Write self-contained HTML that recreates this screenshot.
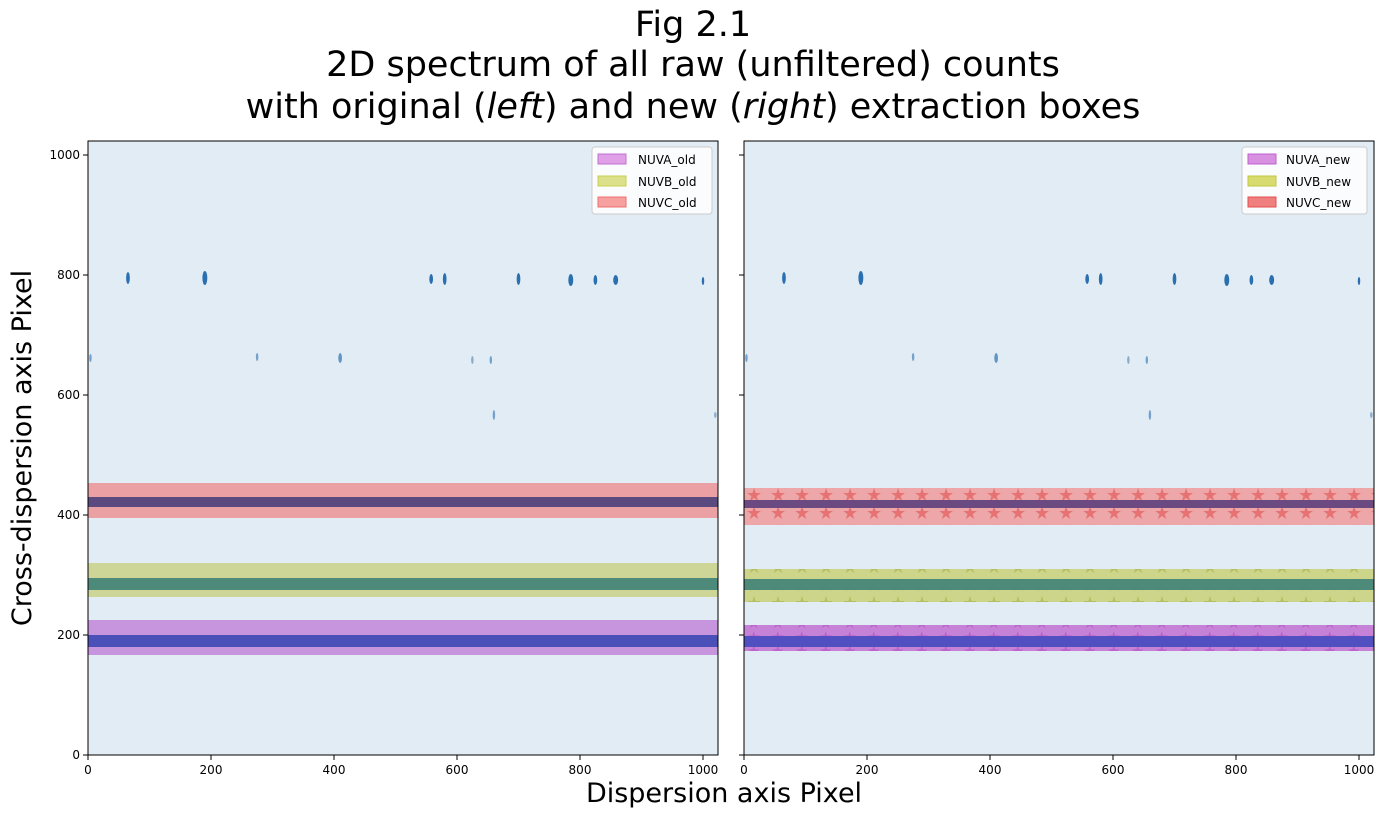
<!DOCTYPE html><html><head><style>body{margin:0;background:#fff}svg{display:block}text{font-family:"DejaVu Sans","Liberation Sans",sans-serif}</style></head><body>
<svg width="1386" height="818" xmlns="http://www.w3.org/2000/svg">
<defs>
<pattern id="st" width="24" height="18" patternUnits="userSpaceOnUse"><text x="2" y="15" font-size="18" fill="#e03030" fill-opacity="0.45">★</text></pattern>
<pattern id="stg" width="24" height="18" patternUnits="userSpaceOnUse"><text x="2" y="15" font-size="18" fill="#8a9a10" fill-opacity="0.35">★</text></pattern>
<pattern id="stm" width="24" height="14" patternUnits="userSpaceOnUse"><text x="3" y="12" font-size="15" fill="#b030c0" fill-opacity="0.4">★</text></pattern>
<g id="spots" fill="#2a70b0">
<ellipse cx="65" cy="278" rx="3" ry="6"/><ellipse cx="190" cy="278" rx="4" ry="7"/><ellipse cx="558" cy="279" rx="3" ry="5"/><ellipse cx="580" cy="279" rx="3" ry="6"/><ellipse cx="700" cy="279" rx="3" ry="6"/><ellipse cx="785" cy="280" rx="4" ry="6"/><ellipse cx="825" cy="280" rx="3" ry="5"/><ellipse cx="858" cy="280" rx="4" ry="5"/><ellipse cx="1000" cy="281" rx="2" ry="4"/>
<ellipse cx="4" cy="358" rx="2" ry="4" opacity=".6"/><ellipse cx="275" cy="357" rx="2" ry="4" opacity=".6"/><ellipse cx="410" cy="358" rx="3" ry="5" opacity=".7"/><ellipse cx="625" cy="360" rx="2" ry="4" opacity=".5"/><ellipse cx="655" cy="360" rx="2" ry="4" opacity=".6"/><ellipse cx="660" cy="415" rx="2" ry="5" opacity=".6"/><ellipse cx="1020" cy="415" rx="2" ry="3" opacity=".5"/>
</g>
</defs>
<text x="693" y="36" font-size="35" text-anchor="middle">Fig 2.1</text>
<text x="693" y="76" font-size="35" text-anchor="middle">2D spectrum of all raw (unfiltered) counts</text>
<text x="693" y="118" font-size="35" text-anchor="middle">with original (<tspan font-style="italic">left</tspan>) and new (<tspan font-style="italic">right</tspan>) extraction boxes</text>
<!-- left -->
<rect x="88" y="141" width="630" height="614" fill="#e2ecf4"/>
<g transform="translate(88,0) scale(0.615,1)"><use href="#spots"/></g>
<rect x="88" y="483" width="630" height="35" fill="#f08080" fill-opacity=".7"/>
<rect x="88" y="497" width="630" height="10" fill="#5a4a80"/>
<rect x="88" y="563" width="630" height="34" fill="#c8d080" fill-opacity=".8"/>
<rect x="88" y="578" width="630" height="12" fill="#4e8a7a"/>
<rect x="88" y="620" width="630" height="35" fill="#c080d8" fill-opacity=".8"/>
<rect x="88" y="635" width="630" height="12" fill="#4a50b8"/>
<rect x="88" y="141" width="630" height="614" fill="none" stroke="#000" stroke-width="1"/>
<!-- right -->
<rect x="744" y="141" width="630" height="614" fill="#e2ecf4"/>
<g transform="translate(744,0) scale(0.615,1)"><use href="#spots"/></g>
<rect x="744" y="488" width="630" height="37" fill="#f09090" fill-opacity=".75"/>
<rect x="744" y="488" width="630" height="37" fill="url(#st)"/>
<rect x="744" y="500" width="630" height="8" fill="#6a4a80"/>
<rect x="744" y="569" width="630" height="33" fill="#c8d070" fill-opacity=".8"/>
<rect x="744" y="569" width="630" height="33" fill="url(#stg)"/>
<rect x="744" y="579" width="630" height="11" fill="#4e8a7a"/>
<rect x="744" y="625" width="630" height="26" fill="#c070d0" fill-opacity=".85"/>
<rect x="744" y="625" width="630" height="26" fill="url(#stm)"/>
<rect x="744" y="636" width="630" height="11" fill="#5050c0"/>
<rect x="744" y="141" width="630" height="614" fill="none" stroke="#000" stroke-width="1"/>
<!-- ticks -->
<g stroke="#000" stroke-width="1">
<line x1="88" y1="755" x2="88" y2="760"/><line x1="211" y1="755" x2="211" y2="760"/><line x1="334" y1="755" x2="334" y2="760"/><line x1="457" y1="755" x2="457" y2="760"/><line x1="580" y1="755" x2="580" y2="760"/><line x1="703" y1="755" x2="703" y2="760"/>
<line x1="744" y1="755" x2="744" y2="760"/><line x1="867" y1="755" x2="867" y2="760"/><line x1="990" y1="755" x2="990" y2="760"/><line x1="1113" y1="755" x2="1113" y2="760"/><line x1="1236" y1="755" x2="1236" y2="760"/><line x1="1359" y1="755" x2="1359" y2="760"/>
<line x1="83" y1="755" x2="88" y2="755"/><line x1="83" y1="635" x2="88" y2="635"/><line x1="83" y1="515" x2="88" y2="515"/><line x1="83" y1="395" x2="88" y2="395"/><line x1="83" y1="275" x2="88" y2="275"/><line x1="83" y1="155" x2="88" y2="155"/>
<line x1="739" y1="755" x2="744" y2="755"/><line x1="739" y1="635" x2="744" y2="635"/><line x1="739" y1="515" x2="744" y2="515"/><line x1="739" y1="395" x2="744" y2="395"/><line x1="739" y1="275" x2="744" y2="275"/><line x1="739" y1="155" x2="744" y2="155"/>
</g>
<g font-size="12" text-anchor="middle">
<text x="88" y="774">0</text><text x="211" y="774">200</text><text x="334" y="774">400</text><text x="457" y="774">600</text><text x="580" y="774">800</text><text x="703" y="774">1000</text>
<text x="744" y="774">0</text><text x="867" y="774">200</text><text x="990" y="774">400</text><text x="1113" y="774">600</text><text x="1236" y="774">800</text><text x="1359" y="774">1000</text>
</g>
<g font-size="12" text-anchor="end">
<text x="80" y="759">0</text><text x="80" y="639">200</text><text x="80" y="519">400</text><text x="80" y="399">600</text><text x="80" y="279">800</text><text x="80" y="159">1000</text>
</g>
<text x="724" y="802" font-size="27" text-anchor="middle">Dispersion axis Pixel</text>
<text transform="translate(31,448) rotate(-90)" font-size="27" text-anchor="middle">Cross-dispersion axis Pixel</text>
<!-- legends -->
<g font-size="12">
<rect x="592" y="147" width="120" height="67" rx="3" fill="#fff" fill-opacity=".85" stroke="#ccc"/>
<rect x="598" y="154" width="28" height="10" fill="#e0a0e8" stroke="#c070d0"/><text x="638" y="164">NUVA_old</text>
<rect x="598" y="176" width="28" height="10" fill="#dde08a" stroke="#c8d050"/><text x="638" y="186">NUVB_old</text>
<rect x="598" y="197" width="28" height="10" fill="#f6a0a0" stroke="#f07070"/><text x="638" y="207">NUVC_old</text>
<rect x="1242" y="147" width="125" height="67" rx="3" fill="#fff" fill-opacity=".85" stroke="#ccc"/>
<rect x="1248" y="154" width="28" height="10" fill="#d890e0" stroke="#c060d0"/><text x="1286" y="164">NUVA_new</text>
<rect x="1248" y="176" width="28" height="10" fill="#d8dc70" stroke="#c0c840"/><text x="1286" y="186">NUVB_new</text>
<rect x="1248" y="197" width="28" height="10" fill="#f08080" stroke="#e05050"/><text x="1286" y="207">NUVC_new</text>
</g>
</svg></body></html>
